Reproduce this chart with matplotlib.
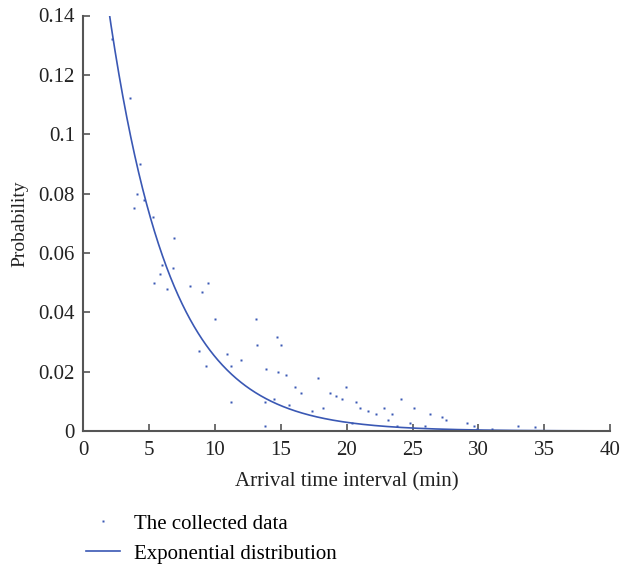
import numpy as np
import matplotlib
matplotlib.use("Agg")
import matplotlib.pyplot as plt

plt.rcParams['font.family'] = ['Liberation Serif', 'DejaVu Serif']

# Collected data (arrival interval in min, probability)
interval = [2.16, 3.58, 4.27, 4.08, 4.61, 3.87, 5.27, 6.89, 5.98, 6.79, 5.79, 5.37,
            6.38, 8.08, 9.49, 8.99, 10.0, 13.11, 8.79, 9.29, 10.89, 11.19, 12.0, 11.19,
            13.19, 14.71, 14.99, 13.9, 14.78, 15.39, 13.8, 14.5, 15.62, 13.8, 16.1, 16.51,
            17.8, 17.39, 18.2, 18.71, 19.21, 19.62, 19.92, 20.71, 21.01, 20.4, 21.62, 22.22,
            22.83, 23.11, 23.42, 23.8, 24.12, 25.11, 24.81, 25.91, 26.33, 27.21, 27.52,
            29.13, 29.64, 29.93, 31.03, 33.03, 34.32]
prob = [0.1322, 0.1121, 0.0900, 0.0800, 0.0779, 0.0750, 0.0720, 0.0650, 0.0560, 0.0549,
        0.0530, 0.0500, 0.0478, 0.0489, 0.0500, 0.0470, 0.0378, 0.0378, 0.0269, 0.0218,
        0.0259, 0.0218, 0.0238, 0.0098, 0.0289, 0.0318, 0.0289, 0.0208, 0.0199, 0.0188,
        0.0098, 0.0108, 0.0088, 0.0017, 0.0148, 0.0128, 0.0178, 0.0068, 0.0078, 0.0128,
        0.0118, 0.0108, 0.0147, 0.0098, 0.0078, 0.0027, 0.0068, 0.0057, 0.0078, 0.0038,
        0.0057, 0.0017, 0.0108, 0.0078, 0.0028, 0.0017, 0.0057, 0.0047, 0.0037, 0.0027,
        0.0017, 0.0007, 0.0007, 0.0016, 0.0015]

# fitted exponential rate (1/min)
rate = 0.215

blue = '#3a58b4'
ink = '#222222'

fig = plt.figure(figsize=(6.34, 5.69), dpi=100)
ax = fig.add_axes([83.3 / 634, 1 - 431 / 569, (610.1 - 83.3) / 634, (431 - 15.5) / 569])

t = np.linspace(0, 40, 800)
line, = ax.plot(t, rate * np.exp(-rate * t), color=blue, lw=1.2,
                label='Exponential distribution')
pts, = ax.plot(interval, prob, linestyle='none', marker='s', ms=1.9, color=blue,
               mec='none', label='The collected data')

ax.set_xlim(0, 40)
ax.set_ylim(0, 0.14)
ax.set_xticks(range(0, 41, 5))
ax.set_yticks([0, 0.02, 0.04, 0.06, 0.08, 0.1, 0.12, 0.14])
ax.set_yticklabels(['0', '0.02', '0.04', '0.06', '0.08', '0.1', '0.12', '0.14'])
for s in ['top', 'right']:
    ax.spines[s].set_visible(False)
for s in ['left', 'bottom']:
    ax.spines[s].set_color('#555555')
    ax.spines[s].set_linewidth(1.5)
ax.tick_params(direction='in', length=5, width=1.2, color='#555555',
               labelsize=15, labelcolor=ink)
ax.tick_params(axis='x', pad=7)
ax.tick_params(axis='y', pad=6)
ax.set_xlabel('Arrival time interval (min)', fontsize=15, color=ink, labelpad=9)
ax.set_ylabel('Probability', fontsize=14, color=ink, labelpad=7)

fig.legend([pts, line], ['The collected data', 'Exponential distribution'],
           loc='upper left', bbox_to_anchor=(85.8 / 634, 1 - 514 / 569), frameon=False,
           fontsize=15, numpoints=1, handlelength=1.65, labelspacing=0.5,
           borderaxespad=0, borderpad=0, handletextpad=0.67)

fig.savefig('out.png', dpi=100)
